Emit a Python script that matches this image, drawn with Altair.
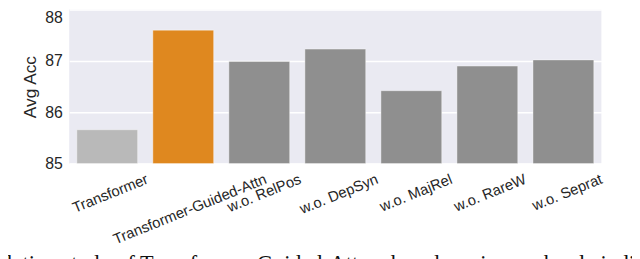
import json
import altair as alt
import pandas as pd

# ---- data ----
categories = ["Transformer", "Transformer-Guided-Attn", "w.o. RelPos", "w.o. DepSyn",
              "w.o. MajRel", "w.o. RareW", "w.o. Seprat"]
avg_acc = [85.66, 87.60, 86.99, 87.23, 86.42, 86.90, 87.02]
bar_colors = ["#b9b9b9", "#df881f", "#8f8f8f", "#8f8f8f", "#8f8f8f", "#8f8f8f", "#8f8f8f"]
y_ticks = [85, 86, 87, 88]
caption = "Ablation study of Transformer-Guided-Attn when dropping each role individually."

# ---- style: horizontal shift of each rotated tick label (px) ----
label_shift = [38, 81, 39, 40, 38, 36, 36]

df = pd.DataFrame({"model": categories, "acc": avg_acc, "color": bar_colors})

offset_cond = [{"test": "datum.value === " + json.dumps(c), "value": s}
               for c, s in zip(categories, label_shift)]

TXT = "#262626"
SANS = "Liberation Sans"

bars = alt.Chart(df).mark_bar(stroke="white", strokeOpacity=0.4, strokeWidth=1).encode(
    x=alt.X("model:N", sort=categories,
            scale=alt.Scale(paddingInner=0.2, paddingOuter=0.1),
            axis=alt.Axis(title=None, labelAngle=-22, labelAlign="right", labelBaseline="top",
                          labelPadding=8, labelFontSize=15, labelFont=SANS, labelColor=TXT,
                          labelOffset={"condition": offset_cond, "value": 0},
                          labelLimit=400, labelOverlap=False,
                          domain=False, ticks=False, tickSize=0, grid=False)),
    y=alt.Y("acc:Q",
            scale=alt.Scale(domain=[y_ticks[0], y_ticks[-1]], nice=False, zero=False),
            axis=alt.Axis(title="Avg Acc", values=y_ticks, format="d",
                          labelFontSize=16, labelFont=SANS, labelColor=TXT, labelPadding=7,
                          labelBaseline={"condition": {"test": "datum.value == %d" % y_ticks[-1],
                                                       "value": "top"}, "value": "middle"},
                          tickSize=0, ticks=False, domain=False,
                          grid=True, gridColor="white", gridWidth=1.5,
                          titleFontSize=17.5, titleFont=SANS, titleFontWeight="normal",
                          titleColor=TXT, titlePadding=5)),
    y2=alt.datum(y_ticks[0]),
    color=alt.Color("color:N", scale=None),
)

chart = bars.properties(
    width=539,
    height=156,
    autosize=alt.AutoSizeParams(type="none"),
    padding={"left": 62, "top": 0, "right": 31, "bottom": 95},
    title=alt.TitleParams(caption, orient="bottom", anchor="start", frame="group",
                          dx=-91, offset=7, baseline="top",
                          font="Liberation Serif", fontSize=22.5, fontWeight="normal",
                          color="#111111"),
).configure_view(fill="#eaeaf2", strokeWidth=0)

chart.save("out.html", embed_options={"renderer": "svg", "actions": False})
